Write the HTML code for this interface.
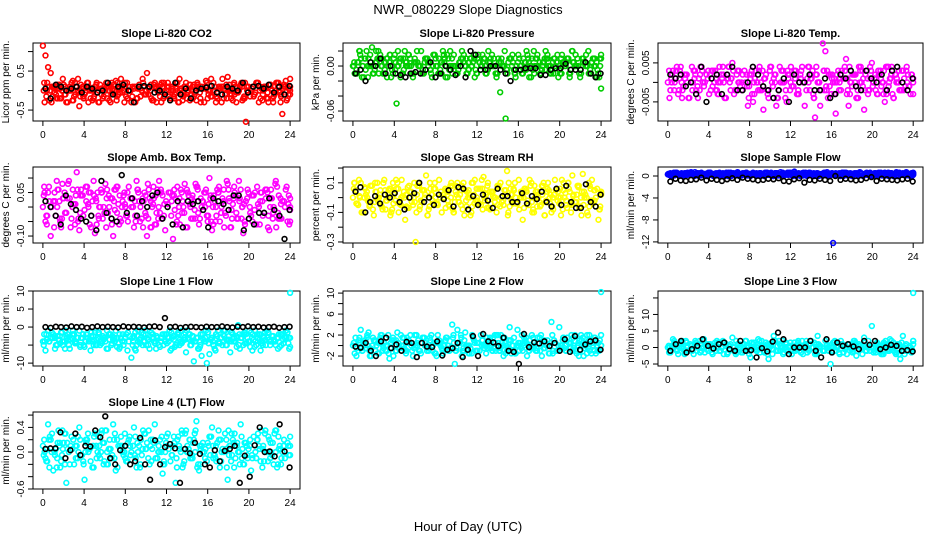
<!DOCTYPE html>
<html><head><meta charset="utf-8">
<style>
html,body{margin:0;padding:0;background:#fff;}
svg{display:block;font-family:"Liberation Sans",sans-serif;}
</style></head>
<body>
<svg id="chart" width="936" height="540" viewBox="0 0 936 540">
<text x="468" y="14" text-anchor="middle" font-size="13">NWR_080229  Slope Diagnostics</text>
<text x="468" y="531" text-anchor="middle" font-size="13">Hour of Day (UTC)</text>
</svg>
<script>
const hourTicks = [0,4,8,12,16,20,24];
const titles = ["Slope Li-820 CO2","Slope Li-820 Pressure","Slope Li-820 Temp.","Slope Amb. Box Temp.","Slope Gas Stream RH","Slope Sample Flow","Slope Line 1 Flow","Slope Line 2 Flow","Slope Line 3 Flow","Slope Line 4 (LT) Flow"];
const yTitles = ["Licor ppm per min.","kPa per min.","degrees C per min.","degrees C per min.","percent per min.","ml/min per min.","ml/min per min.","ml/min per min.","ml/min per min.","ml/min per min."];
const colors = ["#ff0000","#00cd00","#ff00ff","#ff00ff","#ffff00","#0000ff","#00ffff","#00ffff","#00ffff","#00ffff"];
const yTicks = [[-0.5,0,0.5,1.0],[-0.06,-0.04,-0.02,0,0.02],[-0.005,0,0.005],[-0.10,-0.05,0,0.05,0.10],[-0.3,-0.2,-0.1,0,0.1,0.2],[-12,-8,-4,0],[-10,-5,0,5,10],[-2,0,2,4,6,8,10],[-5,0,5,10,15],[-0.6,-0.4,-0.2,0,0.2,0.4,0.6]];
const yTickLabels = [["-0.5","","0.5",""],["-0.06","","","0.00",""],["-0.005","","0.005"],["-0.10","","","0.05",""],["-0.3","","-0.1","","0.1",""],["-12","-8","-4","0"],["-10","","0","5","10"],["-2","","2","","6","","10"],["-5","0","5","10",""],["-0.6","","","0.0","","0.4",""]];
const yRanges = [[-0.78,1.22],[-0.0733,0.0307],[-0.0099,0.0101],[-0.124,0.138],[-0.307,0.207],[-12.2,1.64],[-10.8,10],[-3.9,10.4],[-5.6,17.1],[-0.6,0.65]];

const s1 = [1.15,0.9,0.6,0.45,0.1,-0.1,0.05,-0.2,0.15,-0.3,0.0,0.2,-0.15,0.1,-0.4,0.05,-0.1,0.2,0.0,-0.25,0.1,-0.05,0.15,-0.2,0.0,0.1,-0.3,0.05,0.25,-0.1,0.3,0.0,-0.15,0.1,-0.3,0.05,-0.2,0.15,0.0,-0.1,0.45,0.1,-0.25,0.2,0.0,-0.15,0.1,-0.05,0.2,-0.2,0.0,0.1,-0.3,0.05,-0.15,0.2,0.0,-0.1,0.15,-0.25,0.05,0.1,-0.3,0.2,0.0,-0.15,0.1,-0.2,0.05,0.3,-0.1,0.35,0.0,-0.25,0.1,-0.05,0.15,-0.2,-0.8,0.1,0.0,-0.15,0.2,-0.3,0.05,0.1,-0.2,0.15,0.0,-0.1,0.2,-0.05,-0.6,0.1,-0.2,0.0];
const b1 = [0.05,-0.2,0.15,0.1,0.0,0.05,0.1,-0.05,0.1,0.05,-0.05,0.0,0.2,-0.1,0.1,0.15,0.0,-0.3,0.1,0.12,0.1,-0.05,0.0,-0.1,-0.25,0.2,-0.1,0.05,-0.2,0.0,0.05,0.08,0.12,-0.05,-0.1,0.1,0.05,0.0,0.2,-0.05,0.1,0.12,0.05,0.15,-0.05,0.1,-0.1,0.12];
const s2 = [0.0,-0.01,0.005,0.01,-0.015,0.02,0.0,0.025,-0.005,0.01,0.015,-0.01,0.005,0.0,-0.015,0.01,-0.05,0.005,-0.01,0.02,0.0,0.01,-0.015,0.005,0.0,0.02,-0.01,0.01,0.005,-0.015,0.015,0.0,-0.005,0.02,-0.015,0.01,0.0,0.015,-0.01,0.005,0.02,0.0,-0.01,0.01,0.005,-0.005,0.015,0.0,0.01,-0.01,0.005,0.015,0.0,-0.01,-0.035,0.0,-0.07,0.005,0.01,-0.005,0.0,0.01,-0.01,0.005,0.015,0.0,-0.005,0.01,0.0,-0.01,0.005,0.01,0.0,-0.005,0.01,0.015,-0.01,0.005,0.0,0.01,-0.005,0.005,0.0,-0.01,0.01,0.005,0.0,-0.005,0.01,0.0,-0.01,-0.03];
const b2 = [-0.01,-0.005,-0.02,0.005,0.0,0.01,-0.01,0.0,-0.01,-0.012,-0.015,-0.01,-0.008,-0.01,-0.005,0.005,-0.015,-0.01,0.0,-0.005,-0.012,0.0,-0.015,0.02,0.015,-0.005,-0.005,0.0,0.0,-0.005,-0.01,-0.02,-0.005,-0.005,-0.003,-0.003,-0.003,-0.012,-0.012,-0.005,-0.003,-0.003,0.003,-0.005,-0.005,-0.005,0.005,-0.01,-0.015,-0.01];
const s3 = [0.0,-0.002,0.003,0.001,-0.003,0.004,-0.001,0.002,-0.004,0.0,0.003,-0.002,0.001,0.004,-0.001,0.002,-0.003,0.003,0.0,-0.002,0.004,0.001,-0.004,0.002,0.0,0.005,-0.002,0.003,-0.001,0.002,0.0,-0.006,0.001,-0.005,0.003,-0.002,0.0,-0.007,0.002,-0.004,0.004,0.001,-0.006,-0.002,0.003,0.0,-0.005,0.002,-0.001,0.003,-0.003,0.0,0.004,-0.006,0.001,-0.002,0.003,-0.009,0.0,-0.006,0.01,0.008,-0.004,0.002,0.0,-0.008,0.003,-0.002,0.001,0.006,-0.006,0.0,0.002,-0.004,0.004,0.0,-0.007,0.003,-0.002,0.005,0.001,-0.003,0.002,0.0,-0.005,0.004,0.001,-0.003,0.002,0.0,-0.002,0.003,-0.001,0.002,-0.003,0.001];
const b3 = [0.002,0.001,0.002,-0.001,0.0,-0.003,0.004,-0.005,0.001,0.002,-0.003,0.002,0.004,-0.002,-0.002,0.0,0.004,0.002,-0.001,-0.002,-0.004,-0.002,0.001,-0.005,0.002,0.0,0.0,0.002,-0.002,-0.002,0.001,-0.004,-0.003,0.002,0.001,0.003,-0.001,-0.002,0.003,0.001,0.0,0.002,-0.002,0.003,0.004,0.0,-0.002,0.001];
const s4 = [0.0,-0.05,0.05,-0.1,0.02,-0.03,0.06,-0.07,0.03,-0.02,0.09,-0.04,0.01,0.12,-0.08,0.04,-0.01,0.07,-0.06,0.02,-0.09,0.05,0.0,-0.04,0.08,-0.02,0.03,-0.1,0.06,0.01,-0.05,0.04,-0.03,0.07,0.0,-0.07,0.09,0.02,-0.04,0.05,-0.1,0.03,0.0,-0.06,0.06,-0.02,0.04,-0.08,0.01,0.05,-0.11,0.03,-0.03,0.06,0.0,-0.07,0.04,-0.04,0.02,0.07,-0.06,0.0,0.05,-0.03,0.1,-0.08,0.02,0.06,-0.05,0.03,-0.02,0.08,-0.07,0.01,0.04,-0.04,0.06,-0.09,0.02,0.05,-0.03,0.04,-0.06,0.0,0.05,-0.02,0.06,-0.08,0.03,-0.01,0.07,-0.04,0.02,0.0,-0.05,0.03];
const b4 = [0.02,0.0,-0.03,-0.06,0.04,0.01,-0.01,-0.04,-0.05,-0.03,-0.08,0.09,-0.02,-0.04,-0.05,0.11,-0.02,0.03,-0.03,0.02,0.0,0.04,0.05,-0.04,0.0,-0.06,0.02,-0.07,0.02,0.01,0.02,-0.01,-0.07,0.03,0.02,0.01,-0.01,0.04,0.04,-0.08,-0.04,-0.06,-0.02,-0.02,0.03,-0.01,-0.03,-0.11,-0.01];
const s5 = [0.0,0.05,-0.05,0.1,-0.1,0.02,-0.03,0.08,-0.12,0.04,0.0,-0.06,0.12,-0.02,0.06,-0.08,0.03,0.1,-0.04,0.01,-0.15,0.07,0.0,-0.05,-0.3,0.1,-0.02,0.05,0.15,-0.08,0.02,0.06,-0.04,0.12,-0.1,0.0,0.04,-0.06,0.08,-0.03,0.1,0.02,-0.08,0.05,0.0,-0.12,0.1,-0.02,0.06,-0.05,0.14,0.02,-0.07,0.04,0.0,-0.1,0.08,-0.03,0.05,0.18,-0.06,0.02,0.1,-0.04,0.0,-0.15,0.06,-0.02,0.08,-0.08,0.04,0.0,-0.05,0.1,-0.02,0.05,-0.1,0.02,0.06,-0.04,0.12,0.0,-0.07,0.04,0.15,-0.03,0.08,-0.06,0.16,0.02,-0.12,0.06,-0.04,0.0,-0.15,0.04];
const b5 = [0.04,0.07,-0.1,-0.03,0.01,-0.04,0.02,0.0,0.03,-0.03,-0.08,0.0,0.03,0.1,-0.03,0.0,-0.05,0.02,-0.01,0.05,-0.06,0.07,0.06,-0.08,0.01,-0.05,0.02,-0.02,-0.07,0.06,0.01,0.01,-0.03,-0.03,0.03,-0.04,0.01,-0.01,0.04,-0.03,-0.06,0.06,-0.05,0.08,-0.03,-0.07,-0.07,0.09,-0.03,-0.06,0.02];
const s6 = [0.3,0.5,0.1,0.6,0.2,0.4,0.0,0.5,0.3,0.7,0.1,0.4,0.2,0.6,0.3,0.0,0.5,0.2,0.4,0.1,0.6,0.3,0.0,0.5,0.2,0.4,0.3,0.7,0.1,0.5,0.2,0.4,0.0,0.6,0.3,0.1,0.5,0.2,0.4,0.3,0.6,0.0,0.5,0.2,0.4,0.1,0.3,0.6,0.2,0.8,0.4,0.1,0.5,0.3,0.0,0.6,0.2,0.4,0.5,0.1,0.3,0.6,0.2,0.4,-12.2,0.5,0.1,0.3,0.0,0.6,0.2,0.4,0.3,0.5,0.1,0.4,0.2,0.6,0.3,0.0,0.5,0.2,0.4,0.1,0.6,0.3,0.5,0.2,0.4,0.0,0.3,0.5,0.1,0.4,0.2,0.3];
const b6 = [-1.0,-0.5,-0.8,-0.9,-0.7,-0.6,-0.3,-0.8,-0.5,-0.7,-0.9,-0.6,-0.4,-0.7,-0.3,-0.5,-0.6,-0.8,-0.7,-0.5,-0.6,-0.4,-0.9,-1.0,-0.6,-0.4,-1.2,-0.7,-0.8,-0.5,-0.7,-0.9,0.0,-0.7,-0.5,-0.6,-0.8,-0.7,-0.4,-0.2,-0.9,-0.5,-0.6,-0.7,-0.8,-0.6,-0.5,-1.0];
const s7 = [-4,-6.5,-1,-3,-2,-5,-3.5,-1.5,-4,-2.5,-5,-3,-2,-4.5,-1,-3,-5.5,-2,-3.5,-4,-1.5,-3,-5,-2.5,-4,-6,-2,-3.5,-1,-4.5,-3,-5,-2,-4,-8.5,-2.5,-5,-3.5,-1.5,-4,-3,-6,-2,-4.5,-3,-5.5,-2,-4,-3,-6.5,-2.5,-5,-1.5,-4,-3.5,-7,-2,-5,-9.5,-3,-6,-8,-4,-10,-7.5,-3,-6,-2.5,-4.5,-5,-1,-3.5,-7,-2,-4,0.5,-3,-5,-2,-4,-1.5,-3.5,-5,-2,-4.5,-3,-1,-3.5,-2.5,-4,-3,-5.5,-2,-3,-1.5,9.5];
const b7 = [0,-0.2,0.1,0,-0.1,0.2,0,0.1,-0.2,0,0.2,0,0.1,0,-0.1,0.2,0,0.1,0,-0.1,0.1,0.2,0,2.5,0,0.1,-0.2,0,0.1,0,-0.1,0.1,0,0,0.2,0,-0.1,0.1,0,0.2,0,0.1,-0.1,0,0.1,-0.2,0,0.1];
const s8 = [0,1.5,-1,3,0.5,-0.5,2.5,-2,1,0,-1.5,2,0.5,-1,-2.5,1,0,2.5,-0.5,1.5,-1,0.5,2,-2,0,1,-1.5,1.5,0,-1,2,0.5,-2,1,-0.5,0,1.5,-1,4,-3.5,3,0.5,-1,2.5,0,-0.5,1.5,-1,0.5,2,0,-1.5,1,0,-0.5,2,-1,0.5,1.5,-1,3.5,0,-1.5,3,0.5,-1,1,0,-0.5,1.5,-1,0.5,2,-0.5,0,-1.5,4.5,1,-1,3.5,0,-0.5,1.5,0.5,-1,2,0,-1,1.5,0.5,-0.5,1,0,-1.5,0.5,10.2];
const b8 = [-0.2,-0.4,0.5,-1,-2,0.8,1.5,-0.5,0.2,-1,0.7,0.5,-2.2,0.5,-0.2,-0.3,0.8,-1.9,-0.8,-0.5,0.5,-2.2,-0.8,1.8,-2,2.2,0.8,0.6,-0.1,1.5,-1,-1.2,-3.5,2.2,-0.3,0.6,0.4,0.8,-0.1,0.5,-1,1.2,-1.2,1.8,-0.8,0.2,0.8,1,-0.8];
const s9 = [0,-1.5,2.5,0.5,-2,1,-0.5,2,-1,0.5,-2,1.5,0,-1,2.5,-0.5,1,-1.5,0.5,2,-1,0,1.5,-2,0.5,3,-1,1,0,-1.5,2,0.5,-3,1,-0.5,2.5,0,-1,1.5,-3.5,0.5,3.5,-1,2,0,-1.5,1,0.5,-2,1.5,0,-1,2,0.5,-1.5,1,0,-2,3.5,0.5,-1,2,0,-5,1.5,-1,0.5,2,-1.5,0,1,-0.5,2,-2.5,1,0,3,-1,0.5,6.5,-1,1.5,0,-2,1,-0.5,2.5,0,-1.5,1,-3.5,3.5,0.5,-1,0,16.5];
const b9 = [-1,1,2,-1.5,-0.5,0.5,2.5,0.5,-0.3,1,1.5,-0.5,-1,2,-1,-0.8,-3,-0.2,-1.2,1.8,4.5,2.5,-2,0,0,0,2,-1,-3,2.5,-1.5,1.5,0.5,1,0.3,-0.5,2,0.8,2,-0.5,0,0.8,0.5,-1,-0.8,-1.2];
const s10 = [0.1,-0.1,0.45,0.2,-0.3,0.05,0.35,-0.15,0.15,-0.5,0.0,0.25,-0.2,0.1,0.4,-0.05,-0.45,0.2,0.05,-0.25,0.3,0.0,-0.1,0.15,0.35,-0.2,0.05,0.45,-0.3,0.1,0.25,-0.05,-0.15,0.2,0.0,0.4,-0.25,0.1,-0.05,0.3,0.15,-0.2,0.05,0.45,-0.1,0.2,-0.35,0.0,0.3,-0.15,0.1,-0.5,0.25,0.0,-0.2,0.35,0.05,-0.1,0.2,0.5,-0.3,0.1,0.0,-0.15,0.25,0.4,-0.05,0.15,-0.25,0.05,0.3,-0.45,0.1,0.2,-0.1,0.0,0.45,-0.2,0.15,0.05,-0.3,0.25,-0.1,0.1,0.35,-0.15,0.0,0.2,-0.05,0.3,-0.25,0.1,0.0,-0.1,0.15,-0.05];
const b10 = [0.05,0.06,0.06,0.32,-0.1,0.03,0.3,-0.05,0.1,0.09,0.35,0.24,0.58,-0.1,-0.2,0.03,0.1,-0.2,-0.15,0.23,-0.2,-0.45,0.19,-0.2,0.08,0.13,0.06,-0.5,0.05,-0.02,0.15,-0.03,-0.2,-0.25,0.03,-0.15,0.02,0.05,0.1,-0.5,-0.06,-0.4,0.11,0.4,0.0,0.01,-0.07,0.45,0.01,-0.25];

const colorSeries = [s1,s2,s3,s4,s5,s6,s7,s8,s9,s10];
const blackSeries = [b1,b2,b3,b4,b5,b6,b7,b8,b9,b10];

const NS = "http://www.w3.org/2000/svg";
const svg = document.getElementById('chart');
const colX = [[33,300],[343,611],[658,923]];
const rowY = [[43,121],[167,243],[291,366],[412,489]];
function mk(tag, attrs, parent){const e=document.createElementNS(NS,tag);for(const k in attrs)e.setAttribute(k,attrs[k]);parent.appendChild(e);return e;}

titles.forEach((t,p)=>{
  const [x0,x1]=colX[p%3], [y0,y1]=rowY[Math.floor(p/3)];
  const g=mk('g',{},svg);
  
  
  const xs=h=>x0+(h+0.96)/25.92*(x1-x0);
  const [lo,hi]=yRanges[p];
  const ys=v=>y1-(v-lo)/(hi-lo)*(y1-y0);
  const tt=mk('text',{x:(x0+x1)/2,y:y0-6,'text-anchor':'middle','font-size':'11','font-weight':'bold'},g);
  tt.textContent=t;
  
  
  const fr=mk('rect',{x:x0,y:y0,width:x1-x0,height:y1-y0,fill:'none',stroke:'#000','stroke-width':1},g);
  
  
  hourTicks.forEach(h=>{
    mk('line',{x1:xs(h),x2:xs(h),y1:y1,y2:y1+5,stroke:'#000'},g);
    const l=mk('text',{x:xs(h),y:y1+17,'text-anchor':'middle','font-size':'10'},g);
    l.textContent=h;
    
    
  });
  yTicks[p].forEach((v,i)=>{
    const y=ys(v);
    mk('line',{x1:x0-5,x2:x0,y1:y,y2:y,stroke:'#000'},g);
    const s=yTickLabels[p][i];
    if(s){
      const l=mk('text',{x:x0-9,y:y,'text-anchor':'middle','font-size':'10',transform:`rotate(-90 ${x0-9} ${y})`},g);
      l.textContent=s;
      
      
    }
  });
  const yc=(y0+y1)/2;
  const at=mk('text',{x:x0-24,y:yc,'text-anchor':'middle','font-size':'10',transform:`rotate(-90 ${x0-24} ${yc})`},g);
  at.textContent=yTitles[p];
  
  
  const cs=colorSeries[p];
  const n=cs.length, step=24/(n-1);
  // typical spread of the series, used to keep outliers to their single mark
  const sorted=[...cs].sort((a,b)=>a-b);
  const med=sorted[Math.floor(n/2)];
  const mad=[...cs].map(v=>Math.abs(v-med)).sort((a,b)=>a-b)[Math.floor(n/2)]||1e-9;
  const passes=[[0,0],[0.33,31],[0.66,62],[0.5,17]];
  passes.forEach(([off,shift],pi)=>{
    cs.forEach((_,i)=>{
      const v=cs[(i+shift)%n];
      if(pi>0 && Math.abs(v-med)>2.2*mad) return;
      const h=Math.min(24,i*step+off*step);
      const c=mk('circle',{cx:xs(h),cy:ys(v),r:2.4,fill:'none',stroke:colors[p],'stroke-width':1.6},g);
      
      
    });
  });
  const bs=blackSeries[p];
  bs.forEach((v,i)=>{
    const c=mk('circle',{cx:xs(0.25+i*23.7/(bs.length-1)),cy:ys(v),r:2.4,fill:'none',stroke:'#000','stroke-width':1.6},g);
    
    
  });
});
</script>
</body></html>
